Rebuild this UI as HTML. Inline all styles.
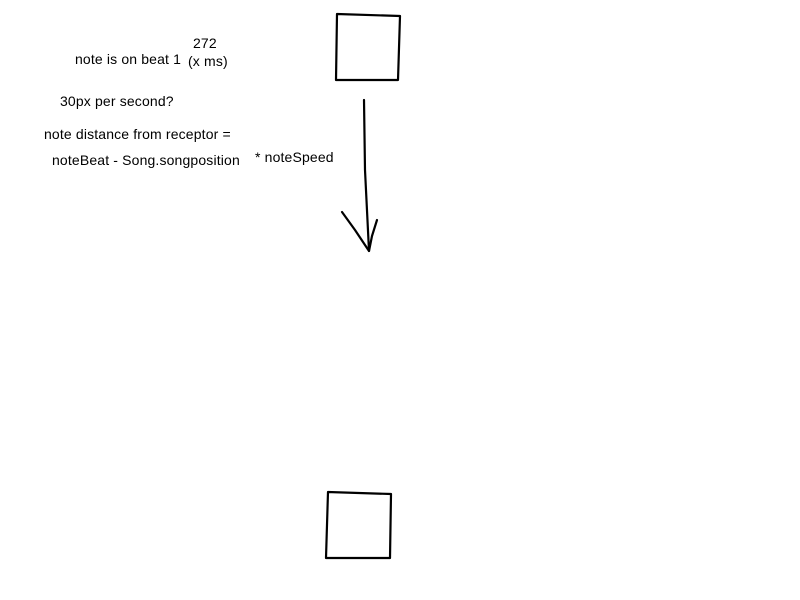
<!DOCTYPE html>
<html><head><style>
body{margin:0;background:#fff;width:800px;height:600px;overflow:hidden;position:relative;font-family:"Liberation Sans",sans-serif;font-size:14px;letter-spacing:0.15px;color:#000}
.t{position:absolute;white-space:nowrap;line-height:1}
</style></head><body>
<svg width="800" height="600" style="position:absolute;left:0;top:0" fill="none" stroke="#000" stroke-width="2.2" stroke-linecap="round" stroke-linejoin="round">
<path d="M337 14 L400 16 L398 80 L336 80 Z"/>
<path d="M328 492 L391 494 L390 558 L326 558 Z"/>
<path d="M364 100 L365 170 L369 251"/>
<path d="M342 212 L355 230 L369 251 L372 236 L377 220"/>
</svg>
<div class="t" style="left:193px;top:36px">272</div>
<div class="t" style="left:75px;top:52px">note is on beat 1</div>
<div class="t" style="left:188px;top:54px">(x ms)</div>
<div class="t" style="left:60px;top:94px">30px per second?</div>
<div class="t" style="left:44px;top:127px">note distance from receptor =</div>
<div class="t" style="left:52px;top:153px">noteBeat - Song.songposition</div>
<div class="t" style="left:255px;top:150px">* noteSpeed</div>
</body></html>
